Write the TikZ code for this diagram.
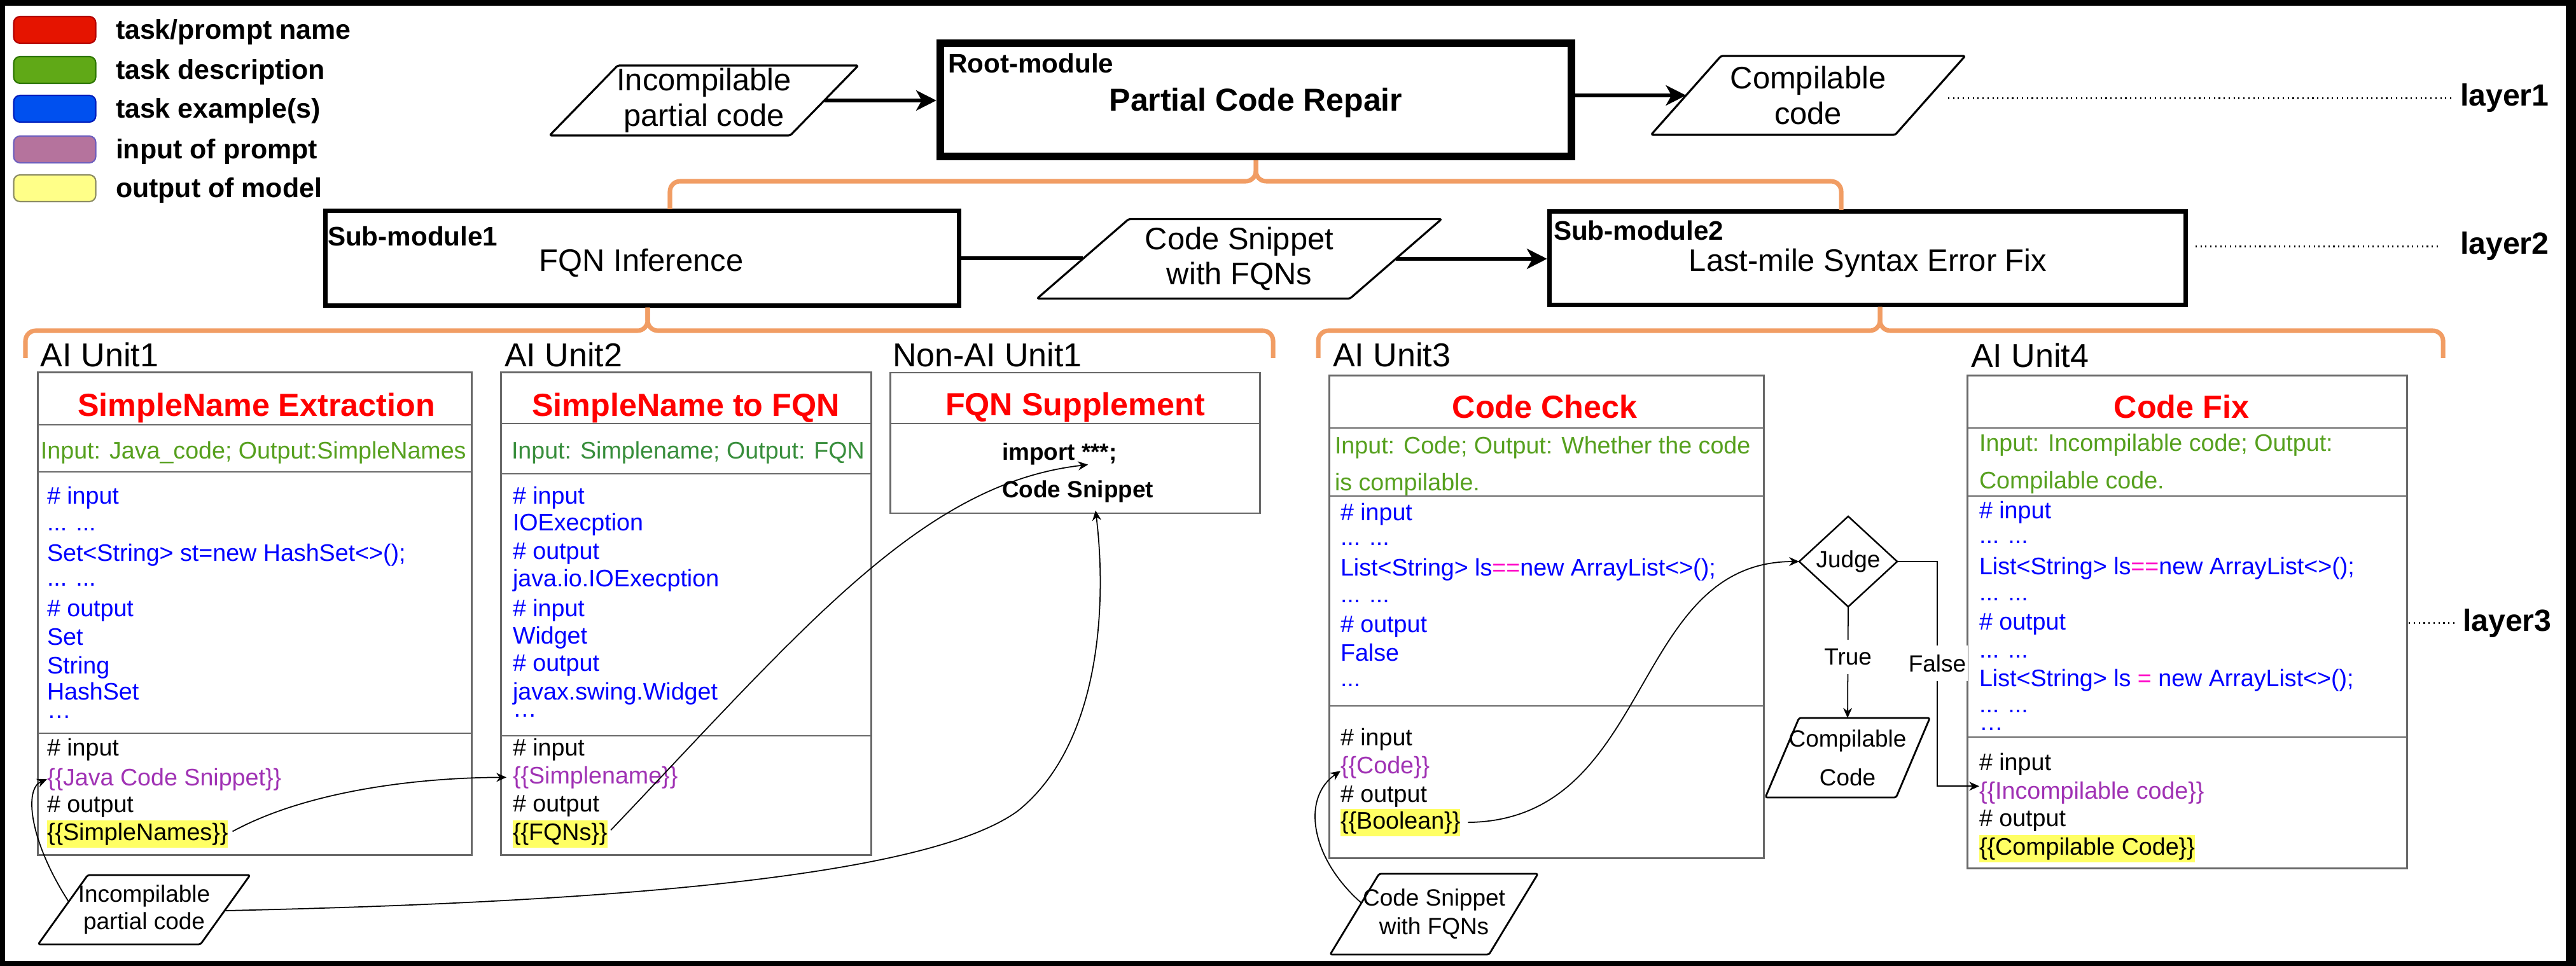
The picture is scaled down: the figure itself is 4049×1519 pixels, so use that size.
\documentclass[tikz,border=0pt]{standalone}
\usepackage{fontspec}
\setmainfont{Liberation Sans}
\usetikzlibrary{arrows.meta,shapes.geometric}
\definecolor{lgred}{RGB}{229,20,0}
\definecolor{lgredb}{RGB}{178,0,0}
\definecolor{lggreen}{RGB}{96,169,23}
\definecolor{lggreenb}{RGB}{45,118,0}
\definecolor{lgblue}{RGB}{0,80,239}
\definecolor{lgblueb}{RGB}{0,29,188}
\definecolor{lgpurple}{RGB}{181,115,157}
\definecolor{lgpurpleb}{RGB}{110,95,190}
\definecolor{lgyellow}{RGB}{255,255,136}
\definecolor{lgyellowb}{RGB}{140,140,100}
\definecolor{orangeline}{RGB}{241,157,100}
\definecolor{boxgray}{RGB}{105,105,105}
\definecolor{titlered}{RGB}{255,0,0}
\definecolor{descgreen}{RGB}{86,160,30}
\definecolor{descgreenb}{RGB}{56,142,60}
\definecolor{exblue}{RGB}{0,0,255}
\definecolor{inpurple}{RGB}{160,50,180}
\definecolor{eqmag}{RGB}{255,0,200}
\definecolor{hlyellow}{RGB}{255,255,100}
\newcommand\midell{\raisebox{0.36em}{…}}
\begin{document}
\begin{tikzpicture}[x=0.01cm, y=-0.01cm,
  every node/.style={inner sep=0pt, outer sep=0pt},
  legsw/.style={draw, line width=0.6pt, rounded corners=0.1cm, minimum width=1.29cm, minimum height=0.42cm},
  legtxt/.style={anchor=base west, font=\bfseries\fontsize{12.2}{14}\selectfont},
  modlbl/.style={anchor=base west, font=\bfseries\fontsize{12}{14}\selectfont},
  modname/.style={anchor=base, font=\fontsize{13.9}{16}\selectfont},
  para/.style={line width=0.9pt, rounded corners=0.03cm, line join=round},
  ptext/.style={align=center, font=\fontsize{13.9}{15.8}\selectfont},
  thickarrow/.style={line width=1.6pt, -{Stealth[length=9pt,width=9pt,inset=2.5pt]}},
  thickline/.style={line width=1.6pt},
  brace/.style={draw=orangeline, line width=2pt, rounded corners=0.16cm},
  unitlbl/.style={anchor=base west, font=\fontsize{14.8}{17}\selectfont},
  unitbox/.style={draw=boxgray, line width=0.8pt},
  divider/.style={draw=boxgray, line width=0.8pt},
  xtitle/.style={anchor=base, font=\bfseries\fontsize{14.3}{17}\selectfont, text=titlered},
  xbody/.style={anchor=base west, font=\fontsize{10.7}{12.8}\selectfont},
  xdesc/.style={xbody, text=descgreen},
  xex/.style={xbody, text=exblue},
  xtpl/.style={xbody, text=black},
  xinp/.style={xbody, text=inpurple},
  xoutp/.style={xbody, text=black, fill=hlyellow, inner ysep=0.04cm},
  xbold/.style={anchor=base west, font=\bfseries\fontsize{10.5}{12.5}\selectfont},
  conn/.style={line width=0.5pt, -{Stealth[length=4.5pt,width=4pt]}},
  tflbl/.style={font=\fontsize{10.5}{12}\selectfont, fill=white, inner xsep=0.03cm, inner ysep=0.14cm},
  layerlbl/.style={anchor=base west, font=\bfseries\fontsize{13.7}{16}\selectfont},
  dotline/.style={line width=0.7pt, dash pattern=on 0.6pt off 1.6pt}]

\useasboundingbox (0,0) rectangle (4049,1519);
\fill[black] (0,0) rectangle (4049,1519);
\fill[white] (8,9) rectangle (4033,1511);

% ---------- legend ----------
\node[legsw, fill=lgred, draw=lgredb] (sw1) at (86,47) {};
\node[legsw, fill=lggreen, draw=lggreenb] (sw2) at (86,110) {};
\node[legsw, fill=lgblue, draw=lgblueb] (sw3) at (86,171) {};
\node[legsw, fill=lgpurple, draw=lgpurpleb] (sw4) at (86,235) {};
\node[legsw, fill=lgyellow, draw=lgyellowb] (sw5) at (86,296) {};
\node[legtxt] (lt1) at (182,62) {task/prompt name};
\node[legtxt] (lt2) at (182,125) {task description};
\node[legtxt] (lt3) at (182,186) {task example(s)};
\node[legtxt] (lt4) at (182,250) {input of prompt};
\node[legtxt] (lt5) at (182,311) {output of model};

% ---------- layer 1 ----------
\node[ptext, minimum width=3.78cm, minimum height=1.10cm] (p1) at (1106.5,158) {Incompilable\\partial code};
\draw[para] ([xshift=-0.535cm]p1.south west) -- ([xshift=0.535cm]p1.north west) -- ([xshift=0.535cm]p1.north east) -- ([xshift=-0.535cm]p1.south east) -- cycle;
\node[draw, line width=3.4pt, minimum width=9.92cm, minimum height=1.78cm] (root) at (1974,157) {};
\node[modlbl] (rootlbl) at (1490,115) {Root-module};
\node[anchor=base, font=\bfseries\fontsize{14.2}{17}\selectfont] (rootname) at (1974,175) {Partial Code Repair};
\node[ptext, minimum width=3.835cm, minimum height=1.24cm] (p2) at (2842,150) {Compilable\\code};
\draw[para] ([xshift=-0.55cm]p2.south west) -- ([xshift=0.55cm]p2.north west) -- ([xshift=0.55cm]p2.north east) -- ([xshift=-0.55cm]p2.south east) -- cycle;
\draw[thickarrow, shorten >=0.06cm] (p1.east) -- (root.west |- p1.east);
\draw[thickarrow, shorten <=0.06cm] (root.east |- p2.west) -- (p2.west);
\node[layerlbl] (layer1) at (3867,167) {layer1};
\path (layer1.west -| p2.east) ++(28,0) coordinate (d1s);
\draw[dotline] (d1s) -- ([xshift=-0.1cm]layer1.west);

% ---------- layer 2 ----------
\node[draw, line width=2pt, minimum width=9.95cm, minimum height=1.48cm] (sub1) at (1009.5,406) {};
\node[modlbl] (sub1lbl) at (515,387) {Sub-module1};
\node[modname] (sub1name) at (1008,427) {FQN Inference};
\node[ptext, minimum width=4.915cm, minimum height=1.25cm] (p3) at (1948,407) {Code Snippet\\with FQNs};
\draw[para] ([xshift=-0.72cm]p3.south west) -- ([xshift=0.72cm]p3.north west) -- ([xshift=0.72cm]p3.north east) -- ([xshift=-0.72cm]p3.south east) -- cycle;
\node[draw, line width=2pt, minimum width=10.0cm, minimum height=1.46cm] (sub2) at (2935.5,406) {};
\node[modlbl] (sub2lbl) at (2442,378) {Sub-module2};
\node[modname] (sub2name) at (2936,427) {Last-mile Syntax Error Fix};
\draw[thickline, shorten <=0.035cm] (sub1.east) -- (sub1.east -| p3.west);
\draw[thickarrow, shorten >=0.035cm] (p3.east) -- (sub2.west |- p3.east);
\node[layerlbl] (layer2) at (3867,400) {layer2};
\path (layer2.west -| sub2.east) ++(15,0) coordinate (d2s);
\draw[dotline] (d2s) -- ([xshift=-0.32cm]layer2.west);

% ---------- braces ----------
\coordinate (b1L) at (1053,329);
\coordinate (b1R) at (2894,330);
\coordinate (b1m) at (1974,285);
\draw[brace, shorten >=0.06cm] (b1L) |- (b1m) -- (root.south);
\draw[brace, shorten >=0.06cm] (b1R) |- (b1m) -- (root.south);
\coordinate (b2L) at (40,563);
\coordinate (b2R) at (2001,563);
\coordinate (b2m) at (1018,520);
\draw[brace, shorten >=0.035cm] (b2L) |- (b2m) -- (sub1.south -| b2m);
\draw[brace, shorten >=0.035cm] (b2R) |- (b2m) -- (sub1.south -| b2m);
\coordinate (b3L) at (2072,563);
\coordinate (b3R) at (3840,563);
\coordinate (b3m) at (2955,520);
\draw[brace, shorten >=0.035cm] (b3L) |- (b3m) -- (sub2.south -| b3m);
\draw[brace, shorten >=0.035cm] (b3R) |- (b3m) -- (sub2.south -| b3m);

% ---------- AI Unit1 ----------
\node[unitbox, minimum width=6.81cm, minimum height=7.58cm] (u1box) at (400.5,965) {};
\draw[divider] (60,668) -- (741,668);
\draw[divider] (60,742) -- (741,742);
\draw[divider] (60,1153) -- (741,1153);
\node[unitlbl] (u1lbl) at (64,577) {AI Unit1};
\node[xtitle] (u1t) at (403,654) {SimpleName Extraction};
\node[xdesc] (u1d) at (64,721) {Input: Java\_code; Output:SimpleNames};
\node[xex] (u1e1) at (74,792) {\# input};
\node[xex] (u1e2) at (74,834) {... ...};
\node[xex] (u1e3) at (74,882) {Set<String> st=new HashSet<>();};
\node[xex] (u1e4) at (74,921) {... ...};
\node[xex] (u1e5) at (74,969) {\# output};
\node[xex] (u1e6) at (74,1014) {Set};
\node[xex] (u1e7) at (74,1059) {String};
\node[xex] (u1e8) at (74,1100) {HashSet};
\node[xex] (u1e9) at (74,1143) {\midell};
\node[xtpl] (u1b1) at (74,1188) {\# input};
\node[xinp] (u1b2) at (74,1235) {\{\{Java Code Snippet\}\}};
\node[xtpl] (u1b3) at (74,1277) {\# output};
\node[xoutp] (u1b4) at (74,1321) {\{\{SimpleNames\}\}};

% ---------- AI Unit2 ----------
\node[unitbox, minimum width=5.81cm, minimum height=7.58cm] (u2box) at (1078.5,965) {};
\draw[divider] (788,666) -- (1369,666);
\draw[divider] (788,745) -- (1369,745);
\draw[divider] (788,1157) -- (1369,1157);
\node[unitlbl] (u2lbl) at (793,577) {AI Unit2};
\node[xtitle] (u2t) at (1078,654) {SimpleName to FQN};
\node[xbody, text=descgreenb] (u2d) at (804,721) {Input: Simplename; Output: FQN};
\node[xex] (u2e1) at (806,792) {\# input};
\node[xex] (u2e2) at (806,834) {IOExecption};
\node[xex] (u2e3) at (806,879) {\# output};
\node[xex] (u2e4) at (806,922) {java.io.IOExecption};
\node[xex] (u2e5) at (806,969) {\# input};
\node[xex] (u2e6) at (806,1012) {Widget};
\node[xex] (u2e7) at (806,1055) {\# output};
\node[xex] (u2e8) at (806,1100) {javax.swing.Widget};
\node[xex] (u2e9) at (806,1141) {\midell};
\node[xtpl] (u2b1) at (806,1188) {\# input};
\node[xinp] (u2b2) at (806,1232) {\{\{Simplename\}\}};
\node[xtpl] (u2b3) at (806,1276) {\# output};
\node[xoutp] (u2b4) at (806,1321) {\{\{FQNs\}\}};

% ---------- Non-AI Unit1 ----------
\node[unitbox, minimum width=5.80cm, minimum height=2.21cm] (na1box) at (1690,696.5) {};
\draw[divider] (1400,666) -- (1980,666);
\node[unitlbl] (na1lbl) at (1403,577) {Non-AI Unit1};
\node[xtitle] (na1t) at (1690,653) {FQN Supplement};
\node[xbold] (na1t1) at (1575,723) {import ***;};
\node[xbold] (na1t2) at (1575,782) {Code Snippet};

% ---------- AI Unit3 ----------
\node[unitbox, minimum width=6.82cm, minimum height=7.58cm] (u3box) at (2431,970) {};
\draw[divider] (2090,673) -- (2772,673);
\draw[divider] (2090,780) -- (2772,780);
\draw[divider] (2090,1110) -- (2772,1110);
\node[unitlbl] (u3lbl) at (2095,577) {AI Unit3};
\node[xtitle] (u3t) at (2428,657) {Code Check};
\node[xdesc] (u3d1) at (2098,713) {Input: Code; Output: Whether the code};
\node[xdesc] (u3d2) at (2098,771) {is compilable.};
\node[xex] (u3e1) at (2107,818) {\# input};
\node[xex] (u3e2) at (2107,857) {... ...};
\node[xex] (u3e3) at (2107,905) {List<String> ls\textcolor{eqmag}{==}new ArrayList<>();};
\node[xex] (u3e4) at (2107,947) {... ...};
\node[xex] (u3e5) at (2107,994) {\# output};
\node[xex] (u3e6) at (2107,1039) {False};
\node[xex] (u3e7) at (2107,1079) {...};
\node[xtpl] (u3b1) at (2107,1172) {\# input};
\node[xinp] (u3b2) at (2107,1216) {\{\{Code\}\}};
\node[xtpl] (u3b3) at (2107,1261) {\# output};
\node[xoutp] (u3b4) at (2107,1303) {\{\{Boolean\}\}};

% ---------- Judge ----------
\node[draw, diamond, line width=0.7pt, minimum width=1.54cm, minimum height=1.42cm, font=\fontsize{10.5}{12}\selectfont] (judge) at (2905,883) {Judge};
\node[align=center, font=\fontsize{10.5}{17.4}\selectfont, minimum width=2.055cm, minimum height=1.25cm] (p4) at (2904,1191.5) {Compilable\\Code};
\draw[para, line width=0.8pt] ([xshift=-0.265cm]p4.south west) -- ([xshift=0.265cm]p4.north west) -- ([xshift=0.265cm]p4.north east) -- ([xshift=-0.265cm]p4.south east) -- cycle;

% ---------- AI Unit4 ----------
\node[unitbox, minimum width=6.90cm, minimum height=7.74cm] (u4box) at (3438,978) {};
\draw[divider] (3093,673) -- (3783,673);
\draw[divider] (3093,780) -- (3783,780);
\draw[divider] (3093,1159) -- (3783,1159);
\node[unitlbl] (u4lbl) at (3098,578) {AI Unit4};
\node[xtitle] (u4t) at (3429,657) {Code Fix};
\node[xdesc] (u4d1) at (3111,709) {Input: Incompilable code; Output:};
\node[xdesc] (u4d2) at (3111,768) {Compilable code.};
\node[xex] (u4e1) at (3111,815) {\# input};
\node[xex] (u4e2) at (3111,854) {... ...};
\node[xex] (u4e3) at (3111,903) {List<String> ls\textcolor{eqmag}{==}new ArrayList<>();};
\node[xex] (u4e4) at (3111,944) {... ...};
\node[xex] (u4e5) at (3111,990) {\# output};
\node[xex] (u4e6) at (3111,1034) {... ...};
\node[xex] (u4e7) at (3111,1079) {List<String> ls \textcolor{eqmag}{=} new ArrayList<>();};
\node[xex] (u4e8) at (3111,1120) {... ...};
\node[xex] (u4e9) at (3111,1162) {\midell};
\node[xtpl] (u4b1) at (3111,1211) {\# input};
\node[xinp] (u4b2) at (3111,1256) {\{\{Incompilable code\}\}};
\node[xtpl] (u4b3) at (3111,1299) {\# output};
\node[xoutp] (u4b4) at (3111,1344) {\{\{Compilable Code\}\}};
\node[layerlbl] (layer3) at (3871,992) {layer3};
\path (layer3.west -| u4box.east) ++(3,0) coordinate (d3s);
\draw[dotline] (d3s) -- ([xshift=-0.11cm]layer3.west);

% ---------- bottom inputs ----------
\node[align=center, font=\fontsize{10.5}{12}\selectfont, minimum width=2.55cm, minimum height=1.09cm] (p5) at (226.5,1430.5) {Incompilable\\partial code};
\draw[para, line width=0.8pt] ([xshift=-0.39cm]p5.south west) -- ([xshift=0.39cm]p5.north west) -- ([xshift=0.39cm]p5.north east) -- ([xshift=-0.39cm]p5.south east) -- cycle;
\node[align=center, font=\fontsize{10.5}{12.8}\selectfont, minimum width=2.495cm, minimum height=1.27cm] (p6) at (2254,1437.5) {Code Snippet\\with FQNs};
\draw[para, line width=0.8pt] ([xshift=-0.385cm]p6.south west) -- ([xshift=0.385cm]p6.north west) -- ([xshift=0.385cm]p6.north east) -- ([xshift=-0.385cm]p6.south east) -- cycle;

% ---------- connectors ----------
\coordinate (p5a) at (108,1418);
\coordinate (p5b) at (353,1432);
\coordinate (p6a) at (2140,1420);
\draw[conn] (p5a) .. controls (45,1320) and (38,1240) .. (u1b2.west);
\draw[conn, shorten <=0.08cm, shorten >=0.1cm] (u1b4.east) .. controls (480,1245) and (650,1223) .. (u2b2.west);
\draw[conn, shorten <=0.08cm] (u2b4.east) .. controls (1264,986) and (1450,760) .. ([xshift=0.45cm]na1t1.south);
\draw[conn] (p5b) .. controls (900,1420) and (1450,1385) .. (1600,1275) .. controls (1730,1170) and (1740,950) .. ([xshift=0.28cm,yshift=-0.13cm]na1t2.south);
\draw[conn] (p6a) .. controls (2060,1350) and (2045,1255) .. ([yshift=-0.06cm]u3b2.west);
\draw[conn, shorten <=0.12cm] (u3b4.east) .. controls (2600,1290) and (2560,883) .. (judge.west);
\draw[conn] (judge.south) -- node[tflbl, pos=0.45] (truelbl) {True} (p4.north);
\coordinate (fx) at (3045,1043);
\draw[conn] (judge.east) -| (fx) node[tflbl] (falselbl) {False} |- ([yshift=0.1cm]u4b2.west);
\end{tikzpicture}
\end{document}
